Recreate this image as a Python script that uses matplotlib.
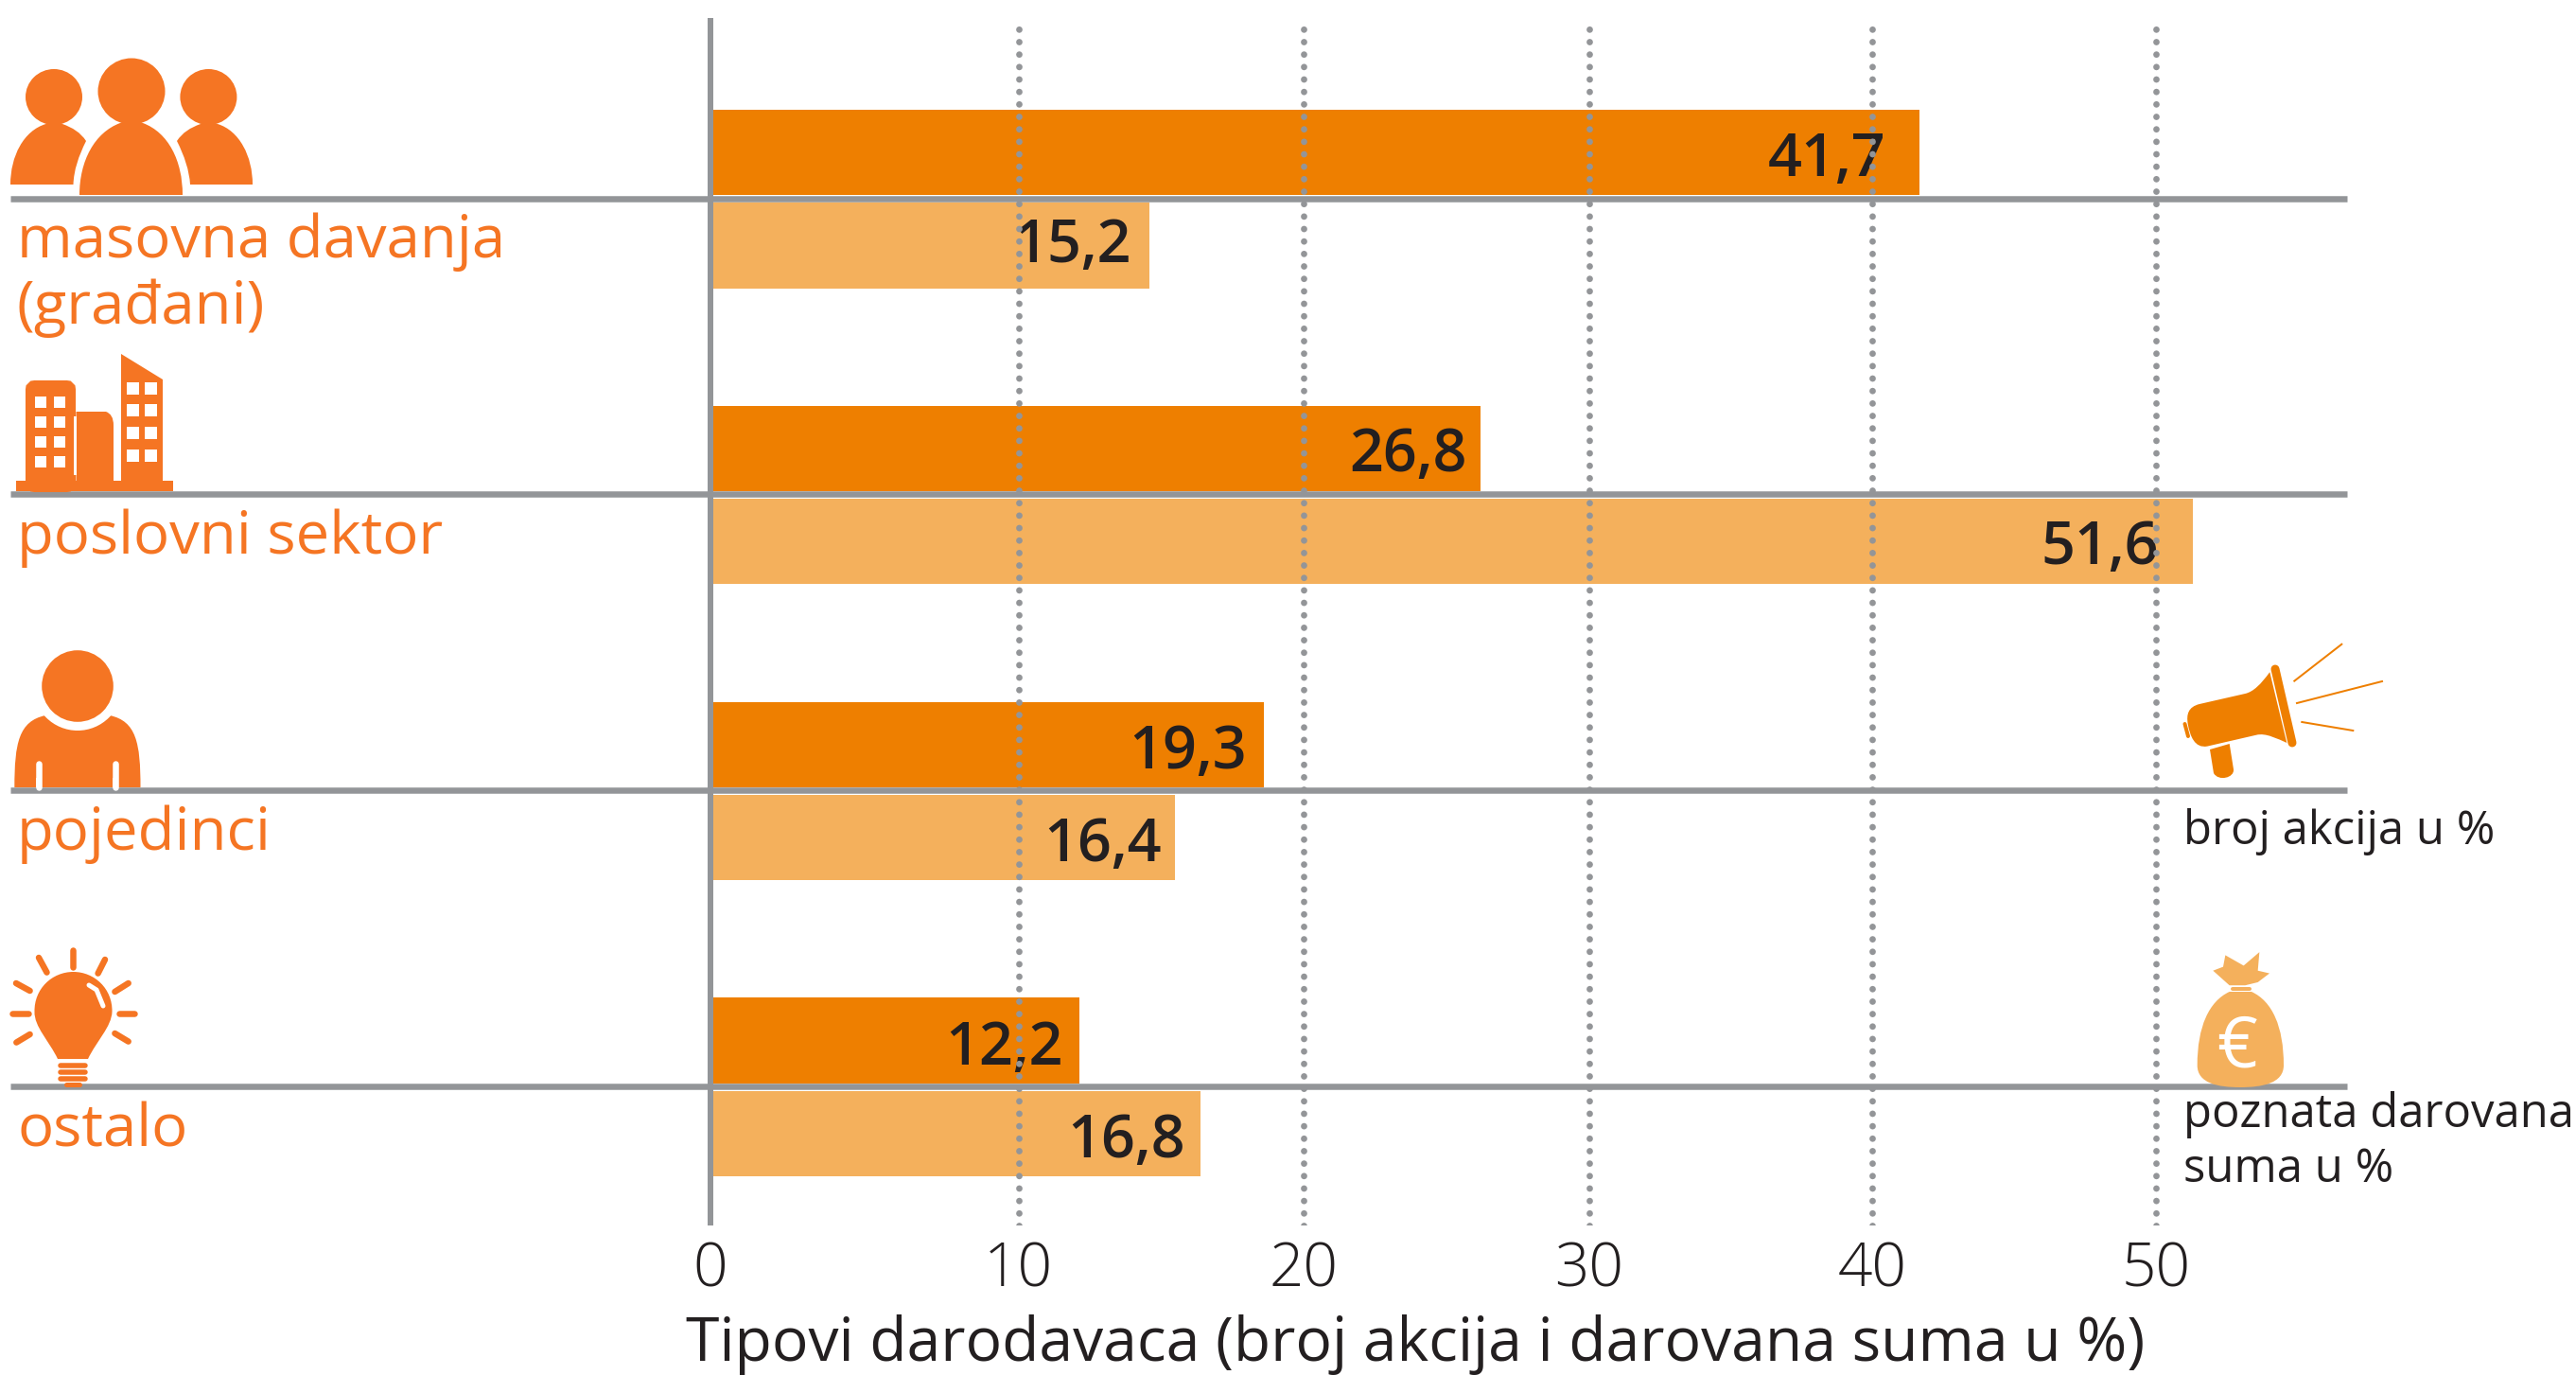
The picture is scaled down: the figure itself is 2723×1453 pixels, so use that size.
import numpy as np
import matplotlib
matplotlib.use("Agg")
import matplotlib.pyplot as plt
from matplotlib.patches import Circle, Ellipse, PathPatch, Polygon, Rectangle, FancyBboxPatch
from matplotlib.path import Path

W, H = 2723, 1453

plt.rcParams["font.family"] = ["Open Sans", "DejaVu Sans"]

# ----------------------------------
# Data
# ----------------------------------

categories = ["masovna davanja\n(građani)", "poslovni sektor", "pojedinci", "ostalo"]

# printed labels
labels_akcije = ["41,7", "26,8", "19,3", "12,2"]
labels_suma = ["15,2", "51,6", "16,4", "16,8"]

# bar ends as read against the gridlines (the drawn bars do not quite follow their labels)
bars_akcije = [41.65, 26.2, 18.6, 12.15]
bars_suma = [14.6, 51.3, 15.5, 16.4]

x_ticks = [0, 10, 20, 30, 40, 50]
# gridlines in the source are unevenly spaced
tick_px = [751, 1076.6, 1378, 1680, 1979.5, 2279]

x_title = "Tipovi darodavaca (broj akcija i darovana suma u %)"
legend_akcije = "broj akcija u %"
legend_suma = "poznata darovana\nsuma u %"

DARK = "#EE7F00"
LIGHT = "#F4B05C"
GRAY = "#939598"
TEXT = "#231F20"
CAT = "#F57523"


def px(v):
    return v * 0.72


scale_vals = np.array([-100] + x_ticks + [150])
scale_px = np.array([751 - 100 * 32.56] + tick_px + [2279 + 100 * 30])


def forward(x):
    return np.interp(x, scale_vals, scale_px)


def inverse(p):
    return np.interp(p, scale_px, scale_vals)


# ----------------------------------
# Main axes
# ----------------------------------

fig = plt.figure(figsize=(W / 100, H / 100), dpi=100, facecolor="white")

AX_TOP, AX_BOTTOM = 19, 1295
ax = fig.add_axes([0, 1 - AX_BOTTOM / H, 1, (AX_BOTTOM - AX_TOP) / H])
ov = fig.add_axes([0, 0, 1, 1])
ov.set_xlim(0, W)
ov.set_ylim(H, 0)
ov.axis("off")
ov.set_zorder(5)

ROW0, ROW_STEP = 209.6, 312.8
ax.set_xscale("function", functions=(forward, inverse))
ax.set_xlim(inverse(0), inverse(W))
ax.set_ylim((AX_BOTTOM - ROW0) / ROW_STEP, (AX_TOP - ROW0) / ROW_STEP)

rows = np.arange(len(categories))
ax.barh(rows - 0.155, bars_akcije, height=0.288, color=DARK, zorder=1)
ax.barh(rows + 0.159, bars_suma, height=0.289, color=LIGHT, zorder=1)

ax.set_xticks(x_ticks)
ax.set_xticklabels([str(t) for t in x_ticks])
ax.set_yticks([])
ax.minorticks_off()
ax.tick_params(axis="x", length=0, pad=px(15), labelsize=46, labelcolor=TEXT)
for t in ax.get_xticklabels():
    t.set_fontweight("light")

ax.grid(axis="x", color=GRAY, linewidth=px(6.8), linestyle=(0, (0.01, 13.1 / 6.8)),
        dash_capstyle="round")
ax.set_axisbelow(False)
ax.xaxis.get_gridlines()[0].set_visible(False)
for s in ax.spines.values():
    s.set_visible(False)

ax.hlines(rows, inverse(11), inverse(2481), color=GRAY, linewidth=px(6.5), zorder=2.2)
ax.axvline(0, color=GRAY, linewidth=px(6), zorder=2.3)

ax.set_xlabel(x_title, fontsize=46.2, color=TEXT, va="baseline")
ax.xaxis.set_label_coords(1496 / W, -(1438 - AX_BOTTOM) / (AX_BOTTOM - AX_TOP))

# value labels sit under the dotted gridlines
label_right = [1993, 1196, 1551, 2282, 1318, 1228, 1123.6, 1253]
label_base = [185.7, 276.8, 498, 596, 812, 910, 1124.6, 1222.7]
value_labels = [v for pair in zip(labels_akcije, labels_suma) for v in pair]
for s, x, y in zip(value_labels, label_right, label_base):
    ax.text(x, y, s, transform=ov.transData, ha="right", va="baseline",
            fontsize=45.3, fontweight="semibold", color=TEXT, zorder=2)

# ----------------------------------
# Category and legend text
# ----------------------------------

cat_x = [18, 18, 18, 18]
cat_y = [272, 585, 898, 1211]
for name, x, y in zip(categories, cat_x, cat_y):
    for i, line in enumerate(name.split("\n")):
        ov.text(x, y + i * 70, line, ha="left", va="baseline", fontsize=45.7, color=CAT)

ov.text(2308, 892, legend_akcije, ha="left", va="baseline", fontsize=35.3, color=TEXT)
for i, line in enumerate(legend_suma.split("\n")):
    ov.text(2308, 1191 + i * 58, line, ha="left", va="baseline", fontsize=35.3, color=TEXT)


# ----------------------------------
# Icons
# ----------------------------------

def shape(verts, codes, color):
    ov.add_patch(PathPatch(Path(verts, codes), facecolor=color, edgecolor="none"))


M, C, L, Z = Path.MOVETO, Path.CURVE4, Path.LINETO, Path.CLOSEPOLY

# people
ov.add_patch(Ellipse((139, 96.5), 71, 70, color=CAT, lw=0))
ov.add_patch(Ellipse((57, 102.5), 60, 59, color=CAT, lw=0))
ov.add_patch(Ellipse((220.4, 102.5), 60, 59, color=CAT, lw=0))
shape([(84, 206), (84, 170), (100, 140), (127, 130), (151, 130), (178, 140), (193, 170), (193, 206), (84, 206)],
      [M, C, C, C, L, C, C, C, Z], CAT)
shape([(11, 195), (11, 165), (25, 138), (48.5, 131), (66, 131), (77, 135), (85, 140), (91, 149),
       (83, 165), (78, 180), (77.5, 195), (11, 195)],
      [M, C, C, C, L, C, C, C, C, C, C, Z], CAT)
shape([(267, 195), (267, 165), (253, 138), (230, 131), (212, 131), (201, 135), (193, 140), (187, 149),
       (195, 165), (200, 180), (201, 195), (267, 195)],
      [M, C, C, C, L, C, C, C, C, C, C, Z], CAT)

# buildings
ov.add_patch(Rectangle((17, 508), 165.6, 11, color=CAT, lw=0))
ov.add_patch(FancyBboxPatch((36, 411), 35, 100, boxstyle="round,pad=0,rounding_size=1", color=CAT, lw=13))
shape([(80.5, 435), (112, 435), (117, 437), (120, 441), (120, 450), (120, 510), (80.5, 510), (80.5, 435)],
      [M, L, C, C, C, L, L, Z], CAT)
ov.add_patch(Polygon([(128, 510), (128, 374), (172, 401), (172, 510)], closed=True, color=CAT, lw=0))
ov.add_patch(Rectangle((77.5, 440), 3, 62, color="white", lw=0))
for wx in [37, 56.6]:
    for wy in [418.6, 439.6, 461, 482]:
        ov.add_patch(Rectangle((wx, wy), 12.4, 12, color="white", lw=0))
for wx in [134, 153]:
    for wy in [404, 427, 451, 475]:
        ov.add_patch(Rectangle((wx, wy), 13.3, 13.3, color="white", lw=0))

# person
shape([(15.3, 832), (15.3, 785), (20, 762), (48, 756), (116, 756), (144, 762), (148.5, 785), (148.5, 832), (15.3, 832)],
      [M, C, C, C, L, C, C, C, Z], CAT)
ov.add_patch(Circle((82, 725), 47, color="white", lw=0))
ov.add_patch(Circle((82, 725), 37.8, color=CAT, lw=0))
for ax_x in [41, 122]:
    ov.plot([ax_x, ax_x], [807, 832], color="white", lw=px(6.5), solid_capstyle="round")
    ov.add_patch(Rectangle((ax_x - 3.3, 822), 6.6, 10, color="white", lw=0))

# bulb
shape([(61, 1119), (52, 1100), (36, 1085), (36.5, 1069), (36, 1045), (55, 1027), (77.5, 1027),
       (100, 1027), (119, 1045), (118.5, 1069), (118, 1085), (102, 1100), (93, 1119), (61, 1119)],
      [M, C, C, C, C, C, C, C, C, C, C, C, C, Z], CAT)
ov.plot([94, 102, 109], [1041, 1046, 1063], color="white", lw=px(5), solid_capstyle="round")
for by in [1125.5, 1133, 1140]:
    ov.plot([64, 90], [by, by], color=CAT, lw=px(5.5), solid_capstyle="round")
ov.plot([70, 84], [1146, 1146], color=CAT, lw=px(5), solid_capstyle="round")
rays = [((76.5, 1004), (76.5, 1022)), ((41, 1012), (49.5, 1027.6)), ((111, 1014), (103.6, 1028.6)),
        ((17, 1039), (31.6, 1047)), ((135.7, 1039), (121.4, 1048)), ((13, 1070.6), (29.6, 1070.6)),
        ((126, 1070.6), (142.3, 1070.6)), ((17.3, 1101.6), (31.6, 1093)), ((121.4, 1092), (135.7, 1100.6))]
for a, b in rays:
    ov.plot([a[0], b[0]], [a[1], b[1]], color=CAT, lw=px(6.5), solid_capstyle="round")

# megaphone
shape([(2399.3, 710.2), (2390, 723), (2382, 731), (2373.3, 733), (2325, 744), (2313, 747), (2311, 755), (2312.7, 765),
       (2315, 778), (2320, 791), (2333.3, 788.6), (2385, 776.7), (2395, 774), (2408, 781), (2417.3, 785), (2399.3, 710.2)],
      [M, C, C, C, L, C, C, C, C, C, C, L, C, C, C, Z], DARK)
ov.plot([2405, 2423], [707, 785], color=DARK, lw=px(9), solid_capstyle="round")
ov.plot([2309.5, 2313], [765, 778], color=DARK, lw=px(4), solid_capstyle="round")
shape([(2336, 792), (2356.7, 786), (2361, 813), (2362, 822), (2345, 826), (2340, 817), (2336, 792)],
      [M, L, L, C, C, C, Z], DARK)
for a, b in [((2425.3, 719.6), (2475.3, 680.8)), ((2428, 743), (2518, 720)), ((2433.3, 763), (2487.3, 772))]:
    ov.plot([a[0], b[0]], [a[1], b[1]], color=DARK, lw=px(2))

# money bag
shape([(2356.7, 1048), (2335, 1058), (2322.7, 1085), (2322.7, 1125.7), (2322.7, 1145), (2345, 1149), (2368, 1149),
       (2391, 1149), (2414, 1145), (2414, 1125.7), (2414, 1085), (2402, 1058), (2380, 1048), (2356.7, 1048)],
      [M, C, C, C, C, C, C, C, C, C, C, C, C, Z], LIGHT)
ov.plot([2360, 2378], [1045, 1045], color=LIGHT, lw=px(4), solid_capstyle="round")
knot = [(418, 945), (450, 935), (457, 905), (515, 932), (565, 897), (560, 945), (597, 952), (560, 975), (520, 983), (470, 983)]
ov.add_patch(Polygon([(2200 + a / 3, 640 + b / 2.45) for a, b in knot], closed=True, color=LIGHT, lw=0))
ov.text(2365, 1128, "€", ha="center", va="baseline", fontsize=54, color="white")

fig.savefig("out.png", dpi=100, facecolor="white")
